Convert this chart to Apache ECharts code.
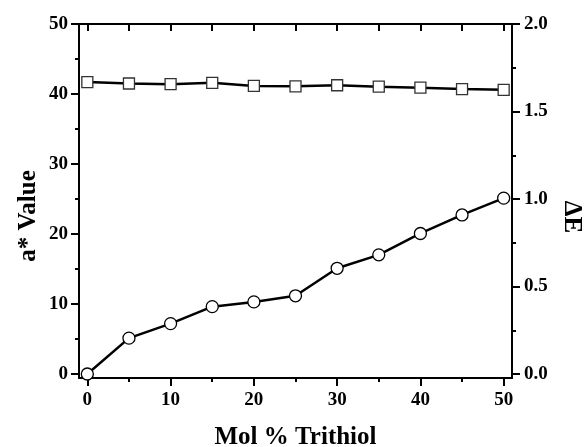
<!DOCTYPE html>
<html><head><meta charset="utf-8">
<script src="https://cdn.jsdelivr.net/npm/echarts@6/dist/echarts.min.js"></script>
<style>html,body{margin:0;padding:0;background:#fff}#c{width:584px;height:447px}</style>
</head><body><div id="c"></div>
<script>
var molPercent = [0, 5, 10, 15, 20, 25, 30, 35, 40, 45, 50];
var aStarValue = [41.7, 41.5, 41.4, 41.6, 41.15, 41.1, 41.25, 41.05, 40.9, 40.7, 40.6];
var deltaE = [0.0, 0.205, 0.288, 0.385, 0.412, 0.447, 0.604, 0.681, 0.803, 0.909, 1.005];
var xMajor = [0, 10, 20, 30, 40, 50];
var xMinor = [5, 15, 25, 35, 45];
var xAll = [0, 5, 10, 15, 20, 25, 30, 35, 40, 45, 50];
var leftMajor = [0, 10, 20, 30, 40, 50];
var leftMinor = [5, 15, 25, 35, 45];
var rightMajor = [0, 0.5, 1.0, 1.5, 2.0];
var rightMinor = [0.25, 0.75, 1.25, 1.75];
var xTitle = 'Mol % Trithiol';
var leftTitle = 'a* Value';
var rightTitle = '\u0394E';

var font = 'Liberation Serif';
var black = '#000';
var lbl = {fontFamily: font, fontWeight: 'bold', fontSize: 19, color: black};
var titleStyle = {fontFamily: font, fontWeight: 'bold', fontSize: 25, fill: black};
var chart = echarts.init(document.getElementById('c'));
function pair(a, b) { return a.map(function (v, i) { return [v, b[i]]; }); }
var lineOpt = {show: true, onZero: false, lineStyle: {color: black, width: 2}};
chart.setOption({
  animation: false,
  grid: {left: 79, right: 72, top: 24, bottom: 69, containLabel: false, outerBoundsMode: 'none'},
  xAxis: [
    {type: 'value', position: 'bottom', min: -1, max: 51,
      name: xTitle, nameLocation: 'middle', nameGap: 47,
      nameTextStyle: {fontFamily: font, fontWeight: 'bold', fontSize: 25, color: black},
      axisLine: lineOpt,
      axisTick: {show: true, inside: false, length: 8, customValues: xMajor, lineStyle: {color: black, width: 2}},
      axisLabel: Object.assign({customValues: xMajor, margin: 13}, lbl),
      splitLine: {show: false}},
    {type: 'value', position: 'bottom', min: -1, max: 51,
      axisLine: {show: false, onZero: false},
      axisTick: {show: true, inside: false, length: 4, customValues: xMinor, lineStyle: {color: black, width: 2}},
      axisLabel: {show: false}, splitLine: {show: false}},
    {type: 'value', position: 'top', min: -1, max: 51,
      axisLine: lineOpt,
      axisTick: {show: true, inside: true, length: 7, customValues: xAll, lineStyle: {color: black, width: 2}},
      axisLabel: {show: false}, splitLine: {show: false}}
  ],
  yAxis: [
    {type: 'value', position: 'left', min: -0.57, max: 50,
      axisLine: lineOpt,
      axisTick: {show: true, inside: false, length: 8, customValues: leftMajor, lineStyle: {color: black, width: 2}},
      axisLabel: Object.assign({customValues: leftMajor, margin: 11}, lbl),
      splitLine: {show: false}},
    {type: 'value', position: 'left', min: -0.57, max: 50,
      axisLine: {show: false, onZero: false},
      axisTick: {show: true, inside: false, length: 4, customValues: leftMinor, lineStyle: {color: black, width: 2}},
      axisLabel: {show: false}, splitLine: {show: false}},
    {type: 'value', position: 'right', min: -0.0228, max: 2.0,
      axisLine: lineOpt,
      axisTick: {show: true, inside: false, length: 8, customValues: rightMajor, lineStyle: {color: black, width: 2}},
      axisLabel: Object.assign({customValues: rightMajor, margin: 12,
        formatter: function (v) { return v.toFixed(1); }}, lbl),
      splitLine: {show: false}},
    {type: 'value', position: 'right', min: -0.0228, max: 2.0,
      axisLine: {show: false, onZero: false},
      axisTick: {show: true, inside: false, length: 4, customValues: rightMinor, lineStyle: {color: black, width: 2}},
      axisLabel: {show: false}, splitLine: {show: false}}
  ],
  graphic: [
    {type: 'text', x: 29, y: 216, rotation: Math.PI / 2,
      style: Object.assign({text: leftTitle, align: 'center', verticalAlign: 'middle'}, titleStyle)},
    {type: 'text', x: 571, y: 217, rotation: -Math.PI / 2,
      style: Object.assign({text: rightTitle, align: 'center', verticalAlign: 'middle'}, titleStyle)}
  ],
  series: [
    {type: 'line', xAxisIndex: 0, yAxisIndex: 0, data: pair(molPercent, aStarValue),
      symbol: 'rect', symbolSize: 11, showAllSymbol: true,
      lineStyle: {color: black, width: 2.5},
      itemStyle: {color: '#fff', borderColor: '#333', borderWidth: 1.3}, z: 3},
    {type: 'line', xAxisIndex: 0, yAxisIndex: 2, data: pair(molPercent, deltaE),
      symbol: 'circle', symbolSize: 12, showAllSymbol: true,
      lineStyle: {color: black, width: 2.5},
      itemStyle: {color: '#fff', borderColor: '#000', borderWidth: 1.3}, z: 3}
  ]
});
</script></body></html>
